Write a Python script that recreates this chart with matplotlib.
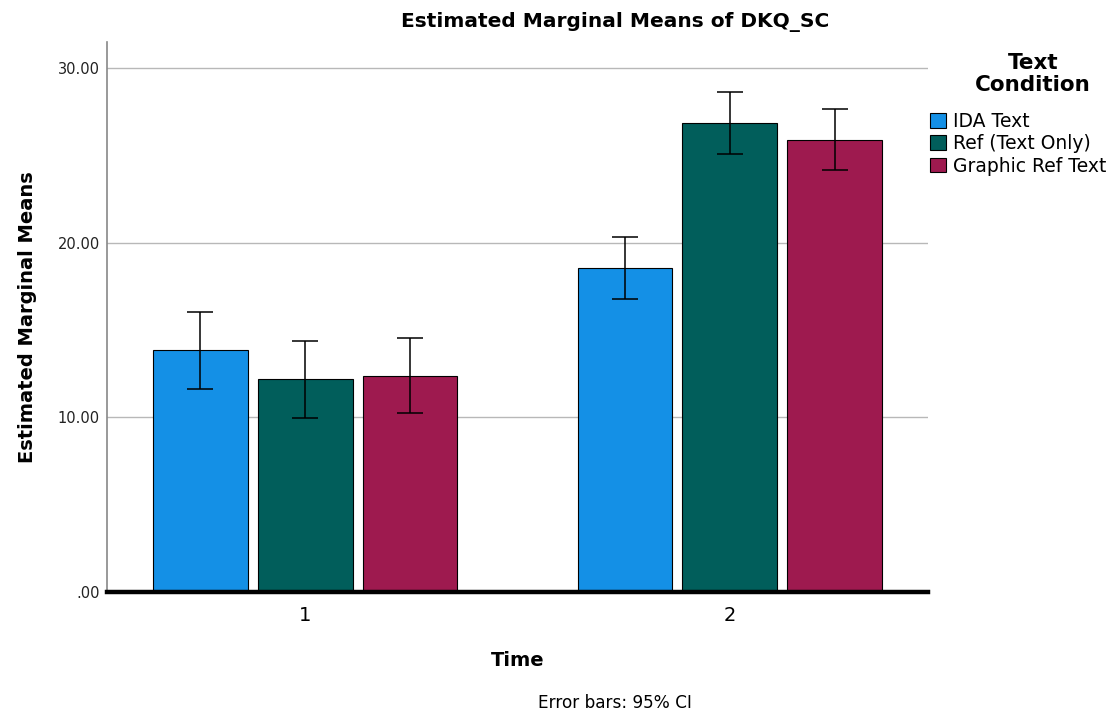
import matplotlib
matplotlib.use("Agg")
import matplotlib.pyplot as plt
import numpy as np
from matplotlib.patches import Patch

times = ["1", "2"]
conditions = ["IDA Text", "Ref (Text Only)", "Graphic Ref Text"]
means = {
    "IDA Text": [13.85, 18.57],
    "Ref (Text Only)": [12.18, 26.87],
    "Graphic Ref Text": [12.38, 25.90],
}
ci_low = {
    "IDA Text": [11.62, 16.80],
    "Ref (Text Only)": [9.98, 25.08],
    "Graphic Ref Text": [10.23, 24.15],
}
ci_high = {
    "IDA Text": [16.05, 20.33],
    "Ref (Text Only)": [14.38, 28.64],
    "Graphic Ref Text": [14.56, 27.66],
}
colors = ["#1490E6", "#015E5B", "#9E1A4F"]
yticks = [0, 10, 20, 30]
ytick_labels = [".00", "10.00", "20.00", "30.00"]

plt.rcParams['font.family'] = ['DejaVu Sans']

fig = plt.figure(figsize=(11.17, 7.19), dpi=100)
ax = fig.add_axes([107/1117, 1-592/719, (928-107)/1117, (592-42)/719])

x = np.arange(len(times))
width = 0.2235
offset = 0.247
for i, cond in enumerate(conditions):
    pos = x + (i - 1) * offset
    m = np.array(means[cond])
    lo = m - np.array(ci_low[cond])
    hi = np.array(ci_high[cond]) - m
    ax.bar(pos, m, width=width, color=colors[i], edgecolor="black", linewidth=0.8, zorder=2)
    ax.errorbar(pos, m, yerr=[lo, hi], fmt="none", ecolor="black", elinewidth=1.1,
                capsize=9.5, capthick=1.1, zorder=3)

ax.set_xlim(-0.466, 1.466)
ax.set_ylim(0, 31.5)
ax.set_xticks(x)
ax.set_xticklabels(times, fontsize=14)
ax.set_yticks(yticks)
ax.set_yticklabels(ytick_labels, fontsize=10.5, color="#222222")
ax.tick_params(axis="both", length=0)
ax.tick_params(axis="x", pad=10)
ax.tick_params(axis="y", pad=5)
ax.yaxis.grid(True, color="#b8b8b8", linewidth=1.0, zorder=0)
ax.set_axisbelow(True)
for s in ["top", "right"]:
    ax.spines[s].set_visible(False)
ax.spines["left"].set_color("#888888")
ax.spines["left"].set_linewidth(1.2)
ax.spines["bottom"].set_color("black")
ax.spines["bottom"].set_linewidth(3.2)
ax.spines["bottom"].set_zorder(4)

ax.set_xlabel("Time", fontsize=14, fontweight="bold", labelpad=19)
ax.set_ylabel("Estimated Marginal Means", fontsize=14, fontweight="bold", labelpad=15)

fig.text(615/1117, 1-22/719, "Estimated Marginal Means of DKQ_SC", ha="center", va="center",
         fontsize=14.5, fontweight="bold")
fig.text(615/1117, 1-703/719, "Error bars: 95% CI", ha="center", va="center", fontsize=12.2)

fig.text(1033/1117, 1-74/719, "Text\nCondition", ha="center", va="center",
         fontsize=15.5, fontweight="bold", linespacing=1.15, multialignment="center")

handles = [Patch(facecolor=c, edgecolor="black", linewidth=0.8) for c in colors]
leg = fig.legend(handles, conditions, loc="upper left",
                 bbox_to_anchor=(926/1117, 1-108/719), frameon=False, fontsize=13.5,
                 handlelength=0.85, handleheight=0.85, handletextpad=0.4, labelspacing=0.18,
                 borderaxespad=0, borderpad=0.2)

fig.savefig("out.png", dpi=100)
